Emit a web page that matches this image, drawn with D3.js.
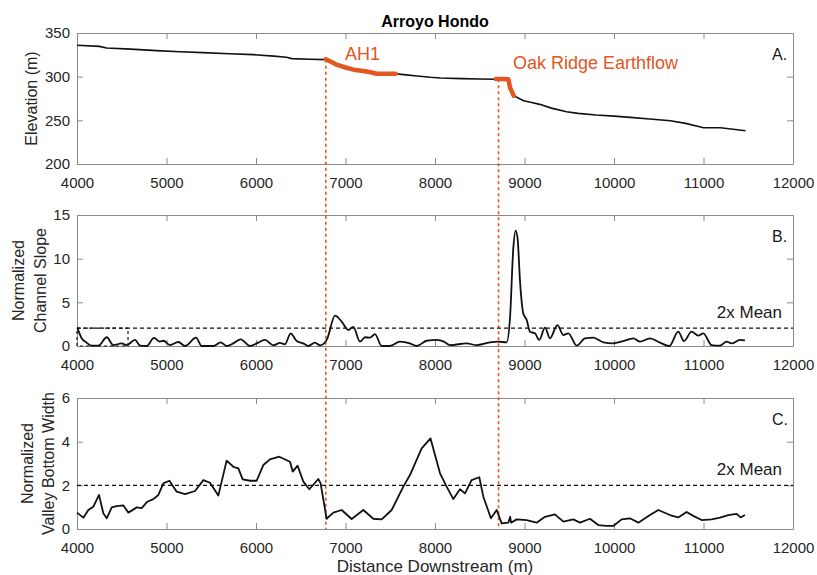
<!DOCTYPE html>
<html>
<head>
<meta charset="utf-8">
<script src="https://cdn.jsdelivr.net/npm/d3@7"></script>
<style>
  body { margin: 0; background: #fff; }
  svg { font-family: "Liberation Sans", Arial, sans-serif; }
  .axis text { fill: #262626; font-size: 15px; }
  .axis path, .axis line { stroke: #8a8a8a; }
</style>
</head>
<body>
<script>
// canvas and positioning magic numbers
var w = 817;
var h = 575;
var plotLeft = 77;
var plotRight = 793;
// top / bottom of each panel
var panels = [
    {top: 33, bottom: 164},
    {top: 215, bottom: 346},
    {top: 398, bottom: 529}
];
var orange = "#e2561f";

// x axis (shared)
var xDomain = [4000, 12000];
var xTicks = [4000, 5000, 6000, 7000, 8000, 9000, 10000, 11000, 12000];

// A. elevation profile
var elevTicks = [200, 250, 300, 350];
var elevDist = [4000, 4250, 4330, 4600, 4890, 5150, 5410, 5700, 5970, 6200, 6340, 6400, 6600, 6780,
                6900, 7000, 7090, 7200, 7280, 7350, 7450, 7560, 7650, 7800, 7950, 8060, 8300, 8500, 8680,
                8750, 8820, 8840, 8880, 8990, 9080, 9170, 9300, 9470, 9600, 9800, 10000, 10180, 10400,
                10630, 10800, 11000, 11190, 11470];
var elevVals = [335.9, 334.7, 332.8, 331.5, 329.8, 328.5, 327.5, 326.3, 325.2, 323.5, 322.2, 320.7, 320.0, 319.5,
                313.7, 310.5, 308.0, 306.5, 305.0, 303.4, 303.4, 303.4, 302.3, 300.8, 299.3, 298.5, 297.8, 297.4, 297.0,
                297.2, 297.0, 287.0, 278.2, 272.5, 270.5, 268.3, 264.0, 259.9, 258.0, 256.1, 254.8, 253.4, 251.6,
                249.6, 246.5, 241.5, 241.5, 238.1];
// highlighted reaches
var ah1Dist = [6780, 6850, 6900, 7000, 7090, 7200, 7280, 7350, 7450, 7560];
var ah1Vals = [319.9, 316.5, 313.7, 310.5, 308.0, 306.5, 305.0, 303.4, 303.4, 303.4];
var oakDist = [8680, 8750, 8820, 8840, 8880];
var oakVals = [297.2, 297.2, 297.0, 287.0, 278.2];
// dotted break lines (distance, elevation where they start)
var breakDist = [6780, 8710];
var breakElev = [319.5, 297.1];

// B. normalized channel slope
var slopeTicks = [0, 5, 10, 15];
var slopeMean2x = 2.05;
var slopeDist = [4004, 4052, 4108, 4164, 4239, 4332, 4406, 4499, 4555, 4648, 4704, 4779, 4860, 4927, 4965,
                 5039, 5132, 5207, 5330, 5393, 5523, 5605, 5672, 5747, 5829, 5933, 6007, 6100, 6194, 6268,
                 6324, 6387, 6454, 6529, 6585, 6659, 6715, 6790, 6883, 6957, 7031, 7087, 7162, 7218, 7274,
                 7329, 7404, 7497, 7609, 7720, 7795, 7907, 8018, 8100, 8167, 8354, 8465, 8614, 8707, 8800,
                 8838, 8875, 8901, 8923, 8950, 8987, 9024, 9061, 9117, 9165, 9229, 9285, 9367, 9434, 9490,
                 9583, 9676, 9769, 9880, 9992, 10104, 10216, 10290, 10402, 10514, 10618, 10718, 10782, 10867,
                 10942, 10997, 11091, 11184, 11258, 11314, 11407, 11463];
var slopeVals = [2.1, 0.88, 0.38, 0.04, 0.04, 1.0, 0.1, 0.3, 0.1, 0.7, 0.04, 0.0, 0.92, 0.5, 0.6,
                 0.1, 0.46, 0.0, 0.95, 0.0, 0.0, 0.42, 0.0, 0.3, 0.76, 0.0, 0.3, 0.7, 0.08, 0.35,
                 0.2, 1.45, 0.57, 0.3, 0.0, 0.38, 0.08, 0.7, 3.47, 2.8, 1.83, 2.2, 0.5, 1.0, 0.95,
                 1.37, 0.0, 0.0, 0.5, 0.3, 0.0, 0.6, 0.7, 0.5, 0.1, 0.3, 0.1, 0.42, 0.5, 0.42,
                 3.2, 11.2, 13.2, 12.3, 7.4, 3.7, 3.0, 1.64, 1.45, 0.7, 2.1, 0.88, 2.4, 1.26, 1.45,
                 0.04, 0.88, 0.95, 0.42, 0.3, 0.57, 0.88, 0.5, 0.88, 0.38, 0.0, 1.64, 0.57, 1.64,
                 1.18, 1.45, 0.1, 0.04, 0.5, 0.3, 0.69, 0.65];
// stray dashed box near the left edge
var slopeBoxDist = [4000, 4570];

// C. normalized valley bottom width
var widthTicks = [0, 2, 4, 6];
var widthMean2x = 2.0;
var widthDist = [4000, 4071, 4127, 4183, 4246, 4294, 4332, 4388, 4443, 4518, 4574, 4667, 4723, 4786, 4853,
                 4909, 4965, 5032, 5114, 5207, 5319, 5412, 5486, 5579, 5672, 5747, 5803, 5851, 5933, 6007,
                 6082, 6156, 6260, 6380, 6410, 6465, 6529, 6596, 6696, 6722, 6789, 6864, 6957, 7069, 7199,
                 7311, 7404, 7516, 7646, 7720, 7851, 7950, 8056, 8130, 8205, 8279, 8335, 8409, 8495, 8540,
                 8625, 8689, 8745, 8819, 8840, 8850, 8912, 9024, 9136, 9229, 9340, 9434, 9545, 9620, 9731,
                 9824, 9918, 9992, 10085, 10178, 10272, 10402, 10495, 10625, 10718, 10811, 10886, 10979, 11091,
                 11184, 11277, 11370, 11415, 11463];
var widthVals = [0.75, 0.52, 0.87, 1.02, 1.56, 0.72, 0.49, 0.99, 1.05, 1.08, 0.75, 0.99, 0.96, 1.25, 1.37,
                 1.56, 2.09, 2.21, 1.71, 1.6, 1.74, 2.24, 2.12, 1.53, 3.13, 2.85, 2.78, 2.27, 2.21, 2.21,
                 2.93, 3.19, 3.31, 3.08, 2.63, 2.9, 2.17, 1.82, 2.29, 2.09, 0.47, 0.75, 0.87, 0.46, 0.87,
                 0.47, 0.44, 0.87, 1.94, 2.47, 3.69, 4.15, 2.55, 1.94, 1.37, 1.82, 1.63, 2.24, 2.37, 1.48,
                 0.49, 0.87, 0.26, 0.29, 0.56, 0.29, 0.44, 0.41, 0.29, 0.56, 0.67, 0.34, 0.44, 0.29, 0.47,
                 0.18, 0.14, 0.14, 0.44, 0.49, 0.29, 0.64, 0.87, 0.64, 0.53, 0.78, 0.6, 0.41, 0.44,
                 0.52, 0.64, 0.69, 0.53, 0.64];

//Create SVG element
var svg = d3.select("body")
            .append("svg")
            .attr("width", w)
            .attr("height", h);

svg.append("rect").attr("width", w).attr("height", h).attr("fill", "#fff");

var x = d3.scaleLinear().domain(xDomain).range([plotLeft, plotRight]);

var yA = d3.scaleLinear().domain([200, 350]).range([panels[0].bottom, panels[0].top]);
var yB = d3.scaleLinear().domain([0, 15]).range([panels[1].bottom, panels[1].top]);
var yC = d3.scaleLinear().domain([0, 6]).range([panels[2].bottom, panels[2].top]);

var plain = d3.format("d");

// draws the boxed MATLAB style axes, ticks pointing inward on all four sides
function drawAxes(y, p, yTicks){
    var g = svg.append("g");
    g.append("g").attr("class", "axis")
        .attr("transform", "translate(0," + p.bottom + ")")
        .call(d3.axisBottom(x).tickValues(xTicks).tickFormat(plain)
              .tickSizeInner(-6).tickSizeOuter(0).tickPadding(13));
    g.append("g").attr("class", "axis")
        .attr("transform", "translate(0," + p.top + ")")
        .call(d3.axisTop(x).tickValues(xTicks).tickSizeInner(-6).tickSizeOuter(0).tickFormat(""));
    g.append("g").attr("class", "axis")
        .attr("transform", "translate(" + plotLeft + ",0)")
        .call(d3.axisLeft(y).tickValues(yTicks).tickFormat(plain)
              .tickSizeInner(-6).tickSizeOuter(0).tickPadding(7));
    g.append("g").attr("class", "axis")
        .attr("transform", "translate(" + plotRight + ",0)")
        .call(d3.axisRight(y).tickValues(yTicks).tickSizeInner(-6).tickSizeOuter(0).tickFormat(""));
    g.selectAll(".axis text").attr("font-family", null).attr("font-size", null);
    return g;
}

function pairs(xs, ys){
    return xs.map(function(d, i){ return [d, ys[i]]; });
}

drawAxes(yA, panels[0], elevTicks);
drawAxes(yB, panels[1], slopeTicks);
drawAxes(yC, panels[2], widthTicks);

// dotted break lines run from the profile down through all panels
svg.selectAll("line.break")
    .data(breakDist)
    .enter().append("line")
    .attr("class", "break")
    .attr("x1", function(d){ return x(d); })
    .attr("x2", function(d){ return x(d); })
    .attr("y1", function(d, i){ return yA(breakElev[i]); })
    .attr("y2", panels[2].bottom)
    .attr("stroke", orange)
    .attr("stroke-width", 1.6)
    .attr("stroke-dasharray", "3,3");

// ---- panel A ----
var lineA = d3.line().x(function(d){ return x(d[0]); }).y(function(d){ return yA(d[1]); });

svg.append("path")
    .attr("d", lineA(pairs(elevDist, elevVals)))
    .attr("fill", "none").attr("stroke", "#111").attr("stroke-width", 1.6);

[[ah1Dist, ah1Vals], [oakDist, oakVals]].forEach(function(s){
    svg.append("path")
        .attr("d", lineA(pairs(s[0], s[1])))
        .attr("fill", "none").attr("stroke", orange)
        .attr("stroke-width", 4.5).attr("stroke-linecap", "round").attr("stroke-linejoin", "round");
});

svg.append("text").attr("x", 345).attr("y", 60)
    .attr("fill", orange).attr("font-size", 18).text("AH1");
svg.append("text").attr("x", 513).attr("y", 69)
    .attr("fill", orange).attr("font-size", 18).text("Oak Ridge Earthflow");

// ---- panel B ----
var lineB = d3.line().curve(d3.curveMonotoneX)
    .x(function(d){ return x(d[0]); }).y(function(d){ return yB(d[1]); });

svg.append("path")
    .attr("d", lineB(pairs(slopeDist, slopeVals)))
    .attr("fill", "none").attr("stroke", "#111").attr("stroke-width", 1.8);

svg.append("line")
    .attr("x1", x(xDomain[0])).attr("x2", x(xDomain[1]))
    .attr("y1", yB(slopeMean2x)).attr("y2", yB(slopeMean2x))
    .attr("stroke", "#111").attr("stroke-width", 1.4).attr("stroke-dasharray", "4,3");

svg.append("rect")
    .attr("x", x(slopeBoxDist[0])).attr("y", yB(slopeMean2x))
    .attr("width", x(slopeBoxDist[1]) - x(slopeBoxDist[0]))
    .attr("height", yB(0) - yB(slopeMean2x))
    .attr("fill", "none").attr("stroke", "#111").attr("stroke-width", 1.2).attr("stroke-dasharray", "3,3");

// ---- panel C ----
var lineC = d3.line()
    .x(function(d){ return x(d[0]); }).y(function(d){ return yC(d[1]); });

svg.append("path")
    .attr("d", lineC(pairs(widthDist, widthVals)))
    .attr("fill", "none").attr("stroke", "#111").attr("stroke-width", 1.8).attr("stroke-linejoin", "round");

svg.append("line")
    .attr("x1", x(xDomain[0])).attr("x2", x(xDomain[1]))
    .attr("y1", yC(widthMean2x)).attr("y2", yC(widthMean2x))
    .attr("stroke", "#111").attr("stroke-width", 1.4).attr("stroke-dasharray", "4,3");

// "2x Mean" labels
svg.append("text").attr("x", 782).attr("y", yB(slopeMean2x) - 10)
    .attr("text-anchor", "end").attr("font-size", 17).attr("fill", "#1a1a1a").text("2x Mean");
svg.append("text").attr("x", 782).attr("y", yC(widthMean2x) - 10)
    .attr("text-anchor", "end").attr("font-size", 17).attr("fill", "#1a1a1a").text("2x Mean");

// panel letters
var letters = ["A.", "B.", "C."];
svg.selectAll("text.letter")
    .data(letters)
    .enter().append("text")
    .attr("class", "letter")
    .attr("x", 772)
    .attr("y", function(d, i){ return panels[i].top + 27; })
    .attr("font-size", 16).attr("fill", "#1a1a1a")
    .text(function(d){ return d; });

// title
svg.append("text").attr("x", 435).attr("y", 27)
    .attr("text-anchor", "middle").attr("font-size", 16).attr("font-weight", "bold")
    .attr("fill", "#000").text("Arroyo Hondo");

// y labels (rotated)
function yLabel(lines, xs, p){
    var cy = (p.top + p.bottom) / 2;
    lines.forEach(function(t, i){
        svg.append("text")
            .attr("transform", "translate(" + xs[i] + "," + cy + ") rotate(-90)")
            .attr("text-anchor", "middle").attr("dy", "0.35em")
            .attr("font-size", 16).attr("fill", "#262626")
            .text(t);
    });
}
yLabel(["Elevation (m)"], [31], panels[0]);
yLabel(["Normalized", "Channel Slope"], [18, 40], panels[1]);
yLabel(["Normalized", "Valley Bottom Width"], [27, 48], panels[2]);

// x label
svg.append("text").attr("x", 435).attr("y", 572)
    .attr("text-anchor", "middle").attr("font-size", 17).attr("fill", "#262626")
    .text("Distance Downstream (m)");
</script>
</body>
</html>
